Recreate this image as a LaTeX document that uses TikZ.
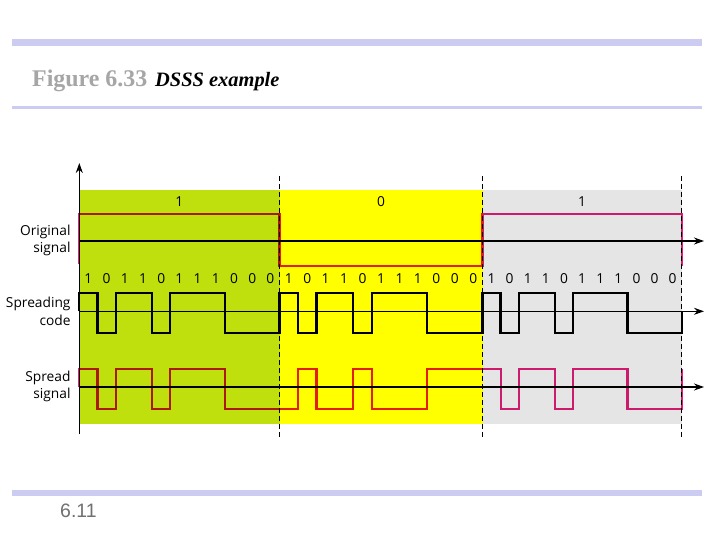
\documentclass[tikz,border=0pt]{standalone}
\usepackage{fontspec}
\setmainfont{Liberation Serif}
\newfontfamily\labfont{Open Sans}
\newfontfamily\numfont{Liberation Sans}
\usetikzlibrary{arrows.meta}
\definecolor{barcol}{RGB}{204,204,242}
\definecolor{grn}{RGB}{192,224,14}
\definecolor{yel}{RGB}{255,255,0}
\definecolor{gry}{RGB}{229,229,229}
\definecolor{sig}{RGB}{228,30,122}
\definecolor{figgray}{RGB}{166,166,166}
\definecolor{pagegray}{RGB}{112,112,112}
\begin{document}
\begin{tikzpicture}[x=1bp,y=-1bp,
  lab/.style={font=\labfont\fontsize{13.8}{17.5}\selectfont, inner sep=0pt},
  sigline/.style={sig, line width=2.2bp, line join=miter},
  codeline/.style={black, line width=2.3bp, line join=miter},
  axisline/.style={line width=1.1bp, -{Stealth[length=10bp,width=7bp]}},
  divline/.style={line width=1bp, dash pattern=on 5bp off 3bp},
  bar/.style={fill=barcol, draw=none}]
\useasboundingbox (0,0) rectangle (720,540);
\fill[white] (0,0) rectangle (720,540);
% header / footer bars
\fill[bar] (12,39.5) rectangle (702,46);
\fill[bar] (12,106.5) rectangle (702,109.5);
\fill[bar] (12,489.5) rectangle (702,496);
\node[anchor=base west, font=\fontsize{24}{24}\selectfont\bfseries, text=figgray, inner sep=0pt] (fig) at (32,87) {Figure 6.33};
\node[anchor=base west, font=\fontsize{20.5}{20.5}\selectfont\bfseries\itshape, inner sep=0pt] (cap) at (155,87) {DSSS example};
\node[anchor=base west, font=\numfont\fontsize{19.5}{19.5}\selectfont, text=pagegray, inner sep=0pt] (pg) at (60,517) {6.11};
% backgrounds
\fill[grn] (79.3,190.5) rectangle (279.5,423.5);
\fill[yel] (279.5,190.5) rectangle (482.5,423.5);
\fill[gry] (482.5,190.5) rectangle (681.7,423.5);
% coordinates for axes
\coordinate (vb) at (79.3,434);
\coordinate (vt) at (79.3,163);
\coordinate (o0) at (79.3,241);   \coordinate (o1) at (704,241);
\coordinate (c0) at (79.3,311.3); \coordinate (c1) at (704,311.3);
\coordinate (s0) at (79.3,387);   \coordinate (s1) at (704,387);
\foreach \x [count=\k] in {279.5,482.5,681.7}{
  \coordinate (d\k t) at (\x,176);
  \coordinate (d\k b) at (\x,437);
  \draw[divline] (d\k t) -- (d\k b);
}
\draw[axisline] (vb) -- (vt);
\draw[axisline] (o0) -- (o1);
\draw[axisline] (c0) -- (c1);
\draw[axisline] (s0) -- (s1);
% spreading code
\draw[codeline] (79.3,311.3) -- (79.3,292.7) -- (97.5,292.7) -- (97.5,332.7) -- (115.7,332.7) -- (115.7,292.7) -- (152.1,292.7) -- (152.1,332.7) -- (170.3,332.7) -- (170.3,292.7) -- (224.9,292.7) -- (224.9,332.7) -- (279.5,332.7) -- (279.5,292.7) -- (297.95,292.7) -- (297.95,332.7) -- (316.4,332.7) -- (316.4,292.7) -- (353.3,292.7) -- (353.3,332.7) -- (371.8,332.7) -- (371.8,292.7) -- (427.1,292.7) -- (427.1,332.7) -- (482.5,332.7) -- (482.5,292.7) -- (500.6,292.7) -- (500.6,332.7) -- (518.7,332.7) -- (518.7,292.7) -- (554.9,292.7) -- (554.9,332.7) -- (573.0,332.7) -- (573.0,292.7) -- (627.4,292.7) -- (627.4,332.7) -- (681.7,332.7) -- (681.7,311.3);
% original and spread signals
\begin{scope}[blend mode=multiply]
\draw[sigline] (79.3,264) -- (79.3,214) -- (279.5,214) -- (279.5,265.7) -- (482.5,265.7) -- (482.5,214) -- (681.7,214) -- (681.7,265.7);
\draw[sigline] (79.3,387) -- (79.3,369.3) -- (97.5,369.3) -- (97.5,409) -- (115.7,409) -- (115.7,369.3) -- (152.1,369.3) -- (152.1,409) -- (170.3,409) -- (170.3,369.3) -- (224.9,369.3) -- (224.9,409) -- (297.95,409) -- (297.95,369.3) -- (316.4,369.3) -- (316.4,409) -- (353.3,409) -- (353.3,369.3) -- (371.8,369.3) -- (371.8,409) -- (427.1,409) -- (427.1,369.3) -- (500.6,369.3) -- (500.6,409) -- (518.7,409) -- (518.7,369.3) -- (554.9,369.3) -- (554.9,409) -- (573.0,409) -- (573.0,369.3) -- (627.4,369.3) -- (627.4,409) -- (681.7,409) -- (681.7,369.3);
\end{scope}
% bit labels
\node[lab] (b1) at (179.4,201.7) {1};
\node[lab] (b2) at (381,201.7) {0};
\node[lab] (b3) at (582.1,201.7) {1};
% chip labels
\foreach \s/\w [count=\k] in {79.3/18.2, 279.5/18.4545, 482.5/18.109}{
  \foreach \d [count=\i from 0] in {1,0,1,1,0,1,1,1,0,0,0}{
    \node[lab] (c\k-\i) at ({\s+(\i+0.5)*\w},278.8) {\d};
  }
}
% side labels
\node[lab, anchor=east, align=right] (lo) at (70.7,240.5) {Original\\signal};
\node[lab, anchor=east, align=right] (lc) at (70.7,311.5) {Spreading\\code};
\node[lab, anchor=east, align=right] (ls) at (70.7,386.4) {Spread\\signal};
\end{tikzpicture}
\end{document}
